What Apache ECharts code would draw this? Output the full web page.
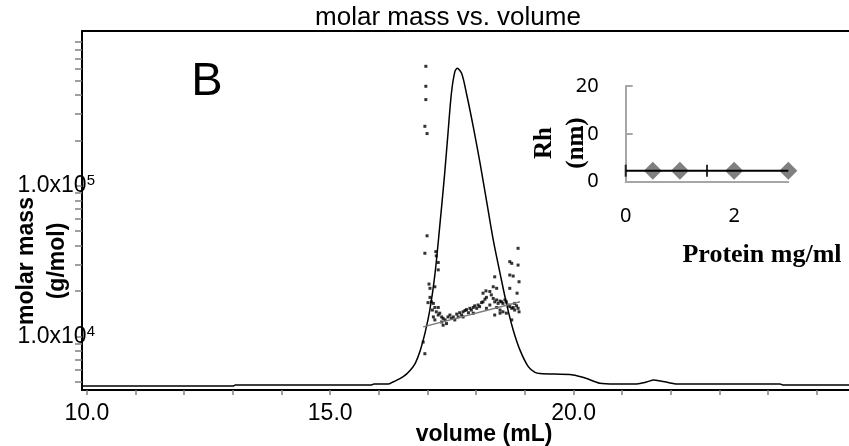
<!DOCTYPE html>
<html>
<head>
<meta charset="utf-8">
<script src="https://cdn.jsdelivr.net/npm/echarts@6/dist/echarts.min.js"></script>
<style>
	html, body { margin: 0; padding: 0; background: #fff; }
	#molar-mass-chart { width: 849px; height: 446px; }
</style>
</head>
<body>
<div id="molar-mass-chart"></div>
<script>
// elution trace (detector signal, arbitrary units)
var traceVolume = [9.9, 13.0, 13.05, 15.85, 15.9, 16.2, 16.3, 16.5, 16.65, 16.75, 16.85, 16.95, 17.05, 17.15, 17.25,
	17.35, 17.42, 17.49, 17.56, 17.61, 17.70, 17.80, 17.94, 18.08, 18.21, 18.35, 18.49, 18.62, 18.76, 18.90,
	19.07, 19.2, 19.31, 19.99, 20.27, 20.54, 20.85, 21.3, 21.5, 21.65, 21.75, 21.9, 22.1, 24.24, 24.30, 25.66];
var traceSignal = [0.011, 0.011, 0.014, 0.014, 0.017, 0.017, 0.023, 0.037, 0.056, 0.075, 0.11, 0.16, 0.225, 0.32, 0.455,
	0.6, 0.715, 0.826, 0.886, 0.896, 0.882, 0.826, 0.733, 0.631, 0.529, 0.418, 0.325, 0.242, 0.167, 0.111,
	0.065, 0.05, 0.046, 0.042, 0.032, 0.019, 0.017, 0.017, 0.022, 0.028, 0.026, 0.022, 0.017, 0.017, 0.014, 0.014];

// molar mass points across the peak
var massVolume = [16.965, 16.965, 16.965, 16.945, 16.99,
	16.99, 16.945, 17.17, 17.18, 17.22, 17.22, 17.03, 17.05, 17.15, 17.05,
	17.08, 17.01, 17.12, 17.15, 17.10, 17.18, 17.22, 17.25, 17.29, 17.32,
	17.29, 17.36, 17.32, 17.39, 17.42, 17.46, 17.49, 17.53, 17.60, 17.63,
	17.66, 17.70, 17.73, 17.77, 17.80, 17.84, 17.87, 17.90, 17.94, 17.97,
	18.01, 18.04, 18.07, 18.11, 18.14, 18.18, 18.21, 18.14, 18.20, 18.28,
	18.31, 18.35, 18.38, 18.42, 18.45, 18.49, 18.52, 18.55, 18.59, 18.62,
	18.66, 18.69, 18.73, 18.76, 18.79, 18.83, 18.86, 18.38, 18.42, 18.35,
	18.69, 18.73, 18.86, 18.86, 18.69, 18.76, 18.88, 18.69, 18.84, 18.79,
	18.88, 18.73, 18.38, 18.49, 18.55, 18.62, 17.12, 17.15, 17.22, 17.56,
	17.73, 17.94, 18.21, 18.28, 18.42, 18.49,
	16.91, 16.945];
var molarMass = [620000, 457000, 373000, 248000, 222000,
	46600, 35700, 36600, 34300, 31000, 27700, 22300, 20900, 21400, 18200,
	17000, 16800, 16600, 15600, 15000, 14600, 15600, 14300, 13500, 13200,
	12500, 12900, 11900, 12200, 13500, 13900, 13200, 13500, 14100, 13500,
	14400, 13900, 14600, 14900, 15100, 14400, 15400, 15000, 15600, 16000,
	15400, 16200, 15800, 16800, 17000, 17700, 18200, 19400, 20100, 19900,
	18900, 17900, 17000, 17500, 16600, 17200, 17000, 16600, 17500, 17000,
	16200, 15800, 15400, 15600, 15000, 16000, 15400, 24900, 20900, 21400,
	31400, 30600, 38500, 29800, 25600, 25200, 23100, 20900, 19400, 16600,
	14600, 12900, 13900, 14300, 14600, 14300, 13500, 12900, 13900, 12900,
	13500, 14300, 15400, 16200, 15600, 15000,
	9200, 7700];

// fitted molar mass line
var fitVolume = [16.91, 18.90];
var fitMass = [11600, 17000];

// axis ticks / labels
var volumeTicks = [10, 11, 12, 13, 14, 15, 16, 17, 18, 19, 20, 21, 22, 23, 24, 25];
var volumeLabels = [10, 15, 20];
var massTicks = [5000, 6000, 7000, 8000, 9000, 10000, 20000, 30000, 40000, 50000, 60000, 70000, 80000, 90000,
	100000, 200000, 300000, 400000, 500000, 600000, 700000, 800000, 900000];
var massLabels = [10000, 100000];

// inset: Rh vs protein concentration
var protein = [0.5, 1, 2, 3];
var rh = [2.3, 2.3, 2.3, 2.3];
var rhLineX = [0, 3];
var rhLineY = [2.3, 2.3];
var rhCapX = [0, 1.5];
var rhCapY = [2.3, 2.3];
var proteinLabels = [0, 2];

function zip(a, b){
	var out = [];
	for (var i = 0; i < a.length; i++) out.push([a[i], b[i]]);
	return out;
}

function molarMassChart(){
	var chart = echarts.init(document.getElementById('molar-mass-chart'));
	var sans = '"Liberation Sans", Arial, sans-serif';
	var serif = '"Liberation Serif", "Times New Roman", serif';

	var option = {
		animation: false,
		backgroundColor: '#fff',
		grid: [
			{left: 82, top: 31, right: 0, bottom: 56, outerBoundsMode: 'none'},
			{left: 625.7, top: 86, width: 162.6, height: 95.7, outerBoundsMode: 'none'}
		],
		xAxis: [
			{
				type: 'value', gridIndex: 0, min: 9.9, max: 25.66,
				axisLine: {lineStyle: {color: '#000', width: 2}},
				axisTick: {customValues: volumeTicks, length: 5, lineStyle: {color: '#808080', width: 1.5}},
				axisLabel: {
					customValues: volumeLabels, margin: 12,
					fontSize: 23, color: '#000', fontFamily: sans,
					formatter: function(v){ return v.toFixed(1); }
				},
				splitLine: {show: false}
			},
			{
				// top frame line
				type: 'value', gridIndex: 0, position: 'top', min: 9.9, max: 25.66,
				axisLine: {lineStyle: {color: '#000', width: 2}},
				axisTick: {show: false}, axisLabel: {show: false}, splitLine: {show: false}
			},
			{
				type: 'value', gridIndex: 1, min: 0, max: 3,
				axisLine: {lineStyle: {color: '#a6a6a6', width: 2}},
				axisTick: {show: false},
				axisLabel: {customValues: proteinLabels, margin: 25, fontSize: 20, color: '#000', fontFamily: '"Noto Sans", sans-serif'},
				splitLine: {show: false}
			}
		],
		yAxis: [
			{
				type: 'log', logBase: 10, gridIndex: 0, min: 4424, max: 1063000,
				axisLine: {show: true, lineStyle: {color: '#000', width: 2}},
				axisTick: {customValues: massTicks, length: 7, lineStyle: {color: '#808080', width: 1.5}},
				axisLabel: {
					customValues: massLabels, margin: -13,
					formatter: function(v){
						return '{b|1.0x10}{sup|' + Math.round(Math.log(v) / Math.LN10) + '}';
					},
					rich: {
						b: {fontSize: 23, color: '#000', fontFamily: sans, lineHeight: 25},
						sup: {fontSize: 15, color: '#000', fontFamily: sans, lineHeight: 25, verticalAlign: 'top'}
					}
				},
				splitLine: {show: false}
			},
			{
				// hidden scale for the detector trace
				type: 'value', gridIndex: 0, min: 0, max: 1, show: false
			},
			{
				type: 'value', gridIndex: 1, min: 0, max: 20, interval: 10,
				axisLine: {show: true, lineStyle: {color: '#a6a6a6', width: 2}},
				axisTick: {show: true, inside: true, length: 7, lineStyle: {color: '#a6a6a6', width: 2}},
				axisLabel: {margin: 27, fontSize: 20, color: '#000', fontFamily: '"Noto Sans", sans-serif'},
				splitLine: {show: false}
			}
		],
		graphic: [
			{type: 'text', x: 448, y: 18, style: {text: 'molar mass vs. volume', fill: '#000', fontSize: 26, fontFamily: sans,
				textAlign: 'center', textVerticalAlign: 'middle', align: 'center', verticalAlign: 'middle'}},
			{type: 'text', x: 207, y: 82, style: {text: 'B', fill: '#000', fontSize: 47, fontFamily: sans,
				textAlign: 'center', textVerticalAlign: 'middle', align: 'center', verticalAlign: 'middle'}},
			{type: 'text', x: 42, y: 261, rotation: Math.PI / 2, style: {text: 'molar mass\n(g/mol)', fill: '#000',
				fontSize: 23, fontWeight: 'bold', fontFamily: sans, lineHeight: 31,
				textAlign: 'center', textVerticalAlign: 'middle', align: 'center', verticalAlign: 'middle'}},
			{type: 'text', x: 484, y: 435, style: {text: 'volume (mL)', fill: '#000', fontSize: 23, fontWeight: 'bold', fontFamily: sans,
				textAlign: 'center', textVerticalAlign: 'middle', align: 'center', verticalAlign: 'middle'}},
			{type: 'text', x: 561, y: 143, rotation: Math.PI / 2, style: {text: 'Rh\n(nm)', fill: '#000',
				fontSize: 25, fontWeight: 'bold', fontFamily: serif, lineHeight: 32,
				textAlign: 'center', textVerticalAlign: 'middle', align: 'center', verticalAlign: 'middle'}},
			{type: 'text', x: 762, y: 255, style: {text: 'Protein mg/ml', fill: '#000', fontSize: 26, fontWeight: 'bold', fontFamily: serif,
				textAlign: 'center', textVerticalAlign: 'middle', align: 'center', verticalAlign: 'middle'}}
		],
		series: [
			{
				name: 'trace', type: 'line', xAxisIndex: 0, yAxisIndex: 1,
				data: zip(traceVolume, traceSignal),
				smooth: 0.3, symbol: 'none',
				lineStyle: {color: '#000', width: 1.5}
			},
			{
				name: 'fit', type: 'line', xAxisIndex: 0, yAxisIndex: 0,
				data: zip(fitVolume, fitMass),
				symbol: 'none',
				lineStyle: {color: '#7a7a7a', width: 1.5}
			},
			{
				name: 'molar mass', type: 'scatter', xAxisIndex: 0, yAxisIndex: 0,
				data: zip(massVolume, molarMass),
				symbol: 'rect', symbolSize: 3,
				itemStyle: {color: '#000'}
			},
			{
				name: 'rh line', type: 'line', xAxisIndex: 2, yAxisIndex: 2,
				data: zip(rhLineX, rhLineY),
				symbol: 'none',
				lineStyle: {color: '#000', width: 2}
			},
			{
				name: 'rh caps', type: 'scatter', xAxisIndex: 2, yAxisIndex: 2,
				data: zip(rhCapX, rhCapY),
				symbol: 'rect', symbolSize: [2, 12],
				itemStyle: {color: '#000'}
			},
			{
				name: 'Rh', type: 'scatter', xAxisIndex: 2, yAxisIndex: 2,
				data: zip(protein, rh),
				symbol: 'diamond', symbolSize: 18,
				itemStyle: {color: '#606060'}
			}
		]
	};

	chart.setOption(option);
}

molarMassChart();
</script>
</body>
</html>
